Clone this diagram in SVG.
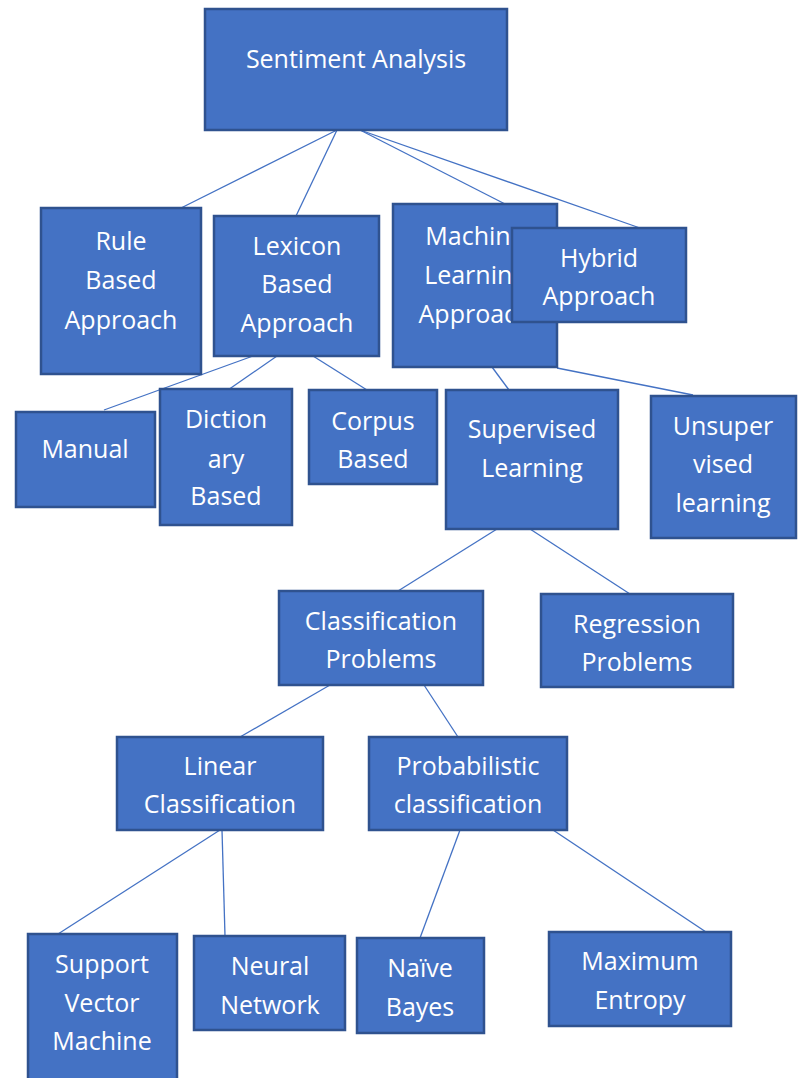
<svg xmlns="http://www.w3.org/2000/svg" width="800" height="1078" viewBox="0 0 800 1078">
<style>
.n{fill:#4472C4;stroke:#2F528F;stroke-width:2.5}
.t{font-family:"Open Sans","Noto Sans",sans-serif;font-size:25px;fill:#fff;text-anchor:middle}
.c line{stroke:#4472C4;stroke-width:1.3}
</style>
<rect width="800" height="1078" fill="#fff"/>
<g class="c">
<line x1="337" y1="130" x2="181" y2="208"/>
<line x1="337" y1="130" x2="296" y2="216"/>
<line x1="360" y1="130" x2="507" y2="205"/>
<line x1="360" y1="130" x2="640" y2="228"/>
<line x1="253" y1="356" x2="104" y2="410"/>
<line x1="277" y1="356" x2="228" y2="390"/>
<line x1="313" y1="356" x2="367" y2="390"/>
<line x1="492" y1="367" x2="509" y2="390"/>
<line x1="557" y1="368" x2="693" y2="395"/>
<line x1="497" y1="529" x2="398" y2="591"/>
<line x1="530" y1="529" x2="630" y2="594"/>
<line x1="330" y1="685" x2="240" y2="737"/>
<line x1="424" y1="685" x2="458" y2="737"/>
<line x1="220" y1="830" x2="58" y2="934"/>
<line x1="222" y1="830" x2="225" y2="936"/>
<line x1="460" y1="830" x2="420" y2="938"/>
<line x1="553" y1="830" x2="706" y2="932"/>
</g>
<g id="sentiment"><rect class="n" x="205" y="9" width="302" height="121"/><text class="t" x="356" y="68">Sentiment Analysis</text></g>
<g id="rule"><rect class="n" x="41" y="208" width="160" height="166"/><text class="t" x="121" y="250">Rule</text><text class="t" x="121" y="289">Based</text><text class="t" x="121" y="329">Approach</text></g>
<g id="lexicon"><rect class="n" x="214" y="216" width="165" height="140"/><text class="t" x="297" y="255">Lexicon</text><text class="t" x="297" y="293">Based</text><text class="t" x="297" y="332">Approach</text></g>
<g id="machine"><rect class="n" x="393" y="204" width="164" height="163"/><text class="t" x="475" y="245">Machine</text><text class="t" x="475" y="284">Learning</text><text class="t" x="475" y="323">Approach</text></g>
<g id="hybrid"><rect class="n" x="512" y="228" width="174" height="94"/><text class="t" x="599" y="267">Hybrid</text><text class="t" x="599" y="305">Approach</text></g>
<g id="manual"><rect class="n" x="16" y="412" width="139" height="95"/><text class="t" x="85" y="458">Manual</text></g>
<g id="dictionary"><rect class="n" x="160" y="389" width="132" height="136"/><text class="t" x="226" y="428">Diction</text><text class="t" x="226" y="468">ary</text><text class="t" x="226" y="505">Based</text></g>
<g id="corpus"><rect class="n" x="309" y="390" width="128" height="94"/><text class="t" x="373" y="430">Corpus</text><text class="t" x="373" y="468">Based</text></g>
<g id="supervised"><rect class="n" x="446" y="390" width="172" height="139"/><text class="t" x="532" y="438">Supervised</text><text class="t" x="532" y="477">Learning</text></g>
<g id="unsupervised"><rect class="n" x="651" y="396" width="145" height="142"/><text class="t" x="723" y="435">Unsuper</text><text class="t" x="723" y="473">vised</text><text class="t" x="723" y="512">learning</text></g>
<g id="classification"><rect class="n" x="279" y="591" width="204" height="94"/><text class="t" x="381" y="630">Classification</text><text class="t" x="381" y="668">Problems</text></g>
<g id="regression"><rect class="n" x="541" y="594" width="192" height="93"/><text class="t" x="637" y="633">Regression</text><text class="t" x="637" y="671">Problems</text></g>
<g id="linear"><rect class="n" x="117" y="737" width="206" height="93"/><text class="t" x="220" y="775">Linear</text><text class="t" x="220" y="813">Classification</text></g>
<g id="probabilistic"><rect class="n" x="369" y="737" width="198" height="93"/><text class="t" x="468" y="775">Probabilistic</text><text class="t" x="468" y="813">classification</text></g>
<g id="svm"><rect class="n" x="28" y="934" width="149" height="150"/><text class="t" x="102" y="973">Support</text><text class="t" x="102" y="1012">Vector</text><text class="t" x="102" y="1050">Machine</text></g>
<g id="neural"><rect class="n" x="194" y="936" width="151" height="94"/><text class="t" x="270" y="975">Neural</text><text class="t" x="270" y="1014">Network</text></g>
<g id="naive"><rect class="n" x="357" y="938" width="127" height="95"/><text class="t" x="420" y="977">Naïve</text><text class="t" x="420" y="1016">Bayes</text></g>
<g id="maxent"><rect class="n" x="549" y="932" width="182" height="94"/><text class="t" x="640" y="970">Maximum</text><text class="t" x="640" y="1009">Entropy</text></g>
</svg>
